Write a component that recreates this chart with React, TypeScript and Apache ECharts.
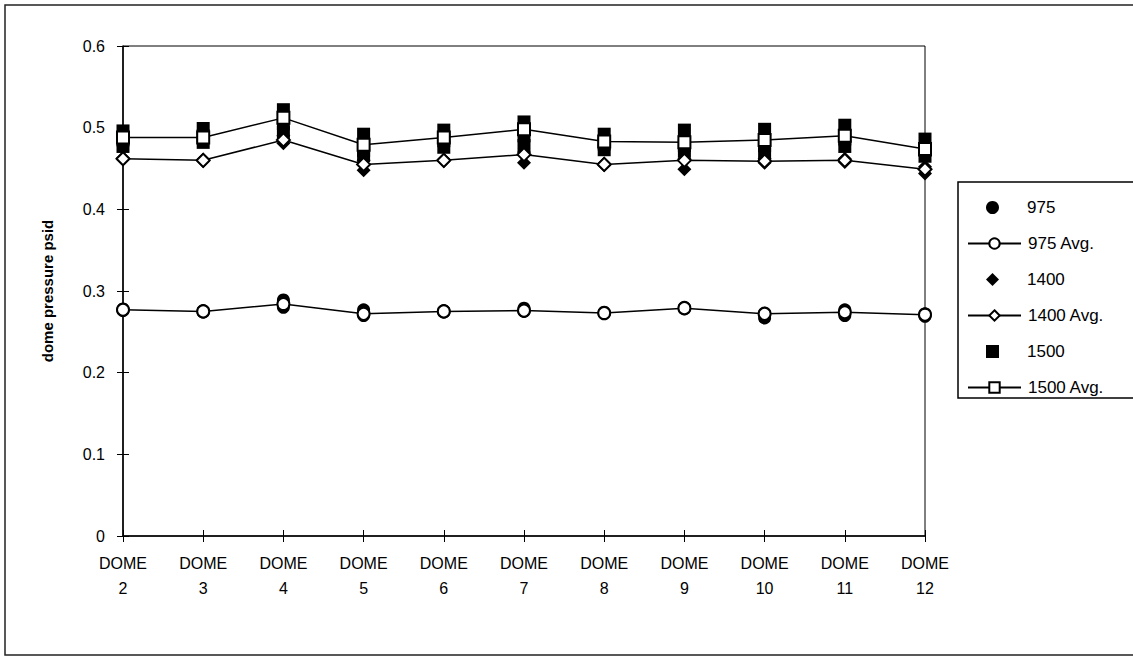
import React, { useEffect, useRef } from "react";
import * as echarts from "echarts";

const categories = ["2", "3", "4", "5", "6", "7", "8", "9", "10", "11", "12"];
const yTicks = [0, 0.1, 0.2, 0.3, 0.4, 0.5, 0.6];

const avg975 = [0.277, 0.275, 0.284, 0.272, 0.275, 0.276, 0.273, 0.279, 0.272, 0.274, 0.271];
const avg1400 = [0.462, 0.460, 0.485, 0.455, 0.460, 0.467, 0.455, 0.460, 0.459, 0.460, 0.449];
const avg1500 = [0.488, 0.488, 0.512, 0.479, 0.488, 0.498, 0.483, 0.482, 0.485, 0.490, 0.474];

const raw975 = [
  [0.278, 0.276],
  [0.276, 0.274],
  [0.289, 0.280],
  [0.277, 0.270],
  [0.276, 0.274],
  [0.279, 0.275],
  [0.274, 0.272],
  [0.280, 0.278],
  [0.273, 0.267],
  [0.277, 0.270],
  [0.272, 0.269],
];
const raw1400 = [
  [0.463, 0.461],
  [0.461, 0.459],
  [0.490, 0.481],
  [0.460, 0.448],
  [0.461, 0.459],
  [0.470, 0.457],
  [0.456, 0.454],
  [0.462, 0.449],
  [0.462, 0.457],
  [0.462, 0.458],
  [0.452, 0.444],
];
const raw1500 = [
  [0.496, 0.485, 0.477],
  [0.499, 0.490, 0.482],
  [0.522, 0.505, 0.494],
  [0.492, 0.472, 0.466],
  [0.497, 0.484, 0.476],
  [0.507, 0.490, 0.478],
  [0.492, 0.480, 0.473],
  [0.497, 0.478, 0.471],
  [0.498, 0.478, 0.468],
  [0.503, 0.486, 0.477],
  [0.486, 0.472, 0.465],
];

const toPoints = (raw: number[][]) =>
  raw.flatMap((vals, i) => vals.map((v) => [categories[i], v]));

const FONT = "'Liberation Sans', Arial, Helvetica, sans-serif";

export default function App() {
  const ref = useRef<HTMLDivElement>(null);
  useEffect(() => {
    if (!ref.current) return;
    const chart = echarts.init(ref.current, undefined, { renderer: "svg" });
    const filled = { color: "#000", opacity: 1 };
    const open = { color: "#fff", borderColor: "#000", borderWidth: 2, opacity: 1 };
    const lineStyle = { color: "#000", width: 1.5 };
    const legendText = { fontSize: 17, fontFamily: FONT, color: "#000" };
    const rowH = 36;
    const firstItemTop = 199;
    chart.setOption({
      animation: false,
      backgroundColor: "#fff",
      textStyle: { fontFamily: FONT, color: "#000" },
      grid: {
        left: 123,
        right: 1133 - 925,
        top: 46,
        bottom: 671 - 536,
        show: true,
        borderColor: "#000",
        borderWidth: 1,
        backgroundColor: "#fff",
      },
      graphic: [
        {
          type: "rect",
          shape: { x: 5, y: 5, width: 1140, height: 650 },
          style: { fill: "none", stroke: "#222", lineWidth: 1.5 },
          silent: true,
          z: -1,
        },
        {
          type: "rect",
          shape: { x: 958, y: 182, width: 200, height: 216 },
          style: { fill: "#fff", stroke: "#000", lineWidth: 1.5 },
          silent: true,
          z: 0,
        },
      ],
      legend: [
        {
          orient: "vertical",
          left: 986,
          top: firstItemTop,
          padding: 0,
          itemGap: rowH * 2 - 17,
          itemWidth: 13,
          itemHeight: 13,
          textStyle: { ...legendText, padding: [0, 0, 0, 23] },
          itemStyle: { opacity: 1 },
          data: ["975", "1400", "1500"],
          z: 5,
        },
        {
          orient: "vertical",
          left: 967,
          top: firstItemTop + rowH,
          padding: 0,
          itemGap: rowH * 2 - 17,
          itemWidth: 53,
          itemHeight: 13,
          textStyle: { ...legendText, padding: [0, 0, 0, 2] },
          data: ["975 Avg.", "1400 Avg.", "1500 Avg."],
          z: 5,
        },
      ],
      xAxis: [
        {
          type: "category",
          data: categories,
          boundaryGap: false,
          axisLine: { lineStyle: { color: "#000", width: 1.5 } },
          axisTick: { show: true, length: 6, lineStyle: { color: "#000" } },
          axisLabel: {
            color: "#000",
            fontSize: 16,
            fontFamily: FONT,
            lineHeight: 25,
            margin: 15,
            formatter: (v: string) => "DOME\n" + v,
          },
        },
        {
          type: "category",
          data: categories,
          boundaryGap: false,
          position: "bottom",
          axisLine: { show: false },
          axisTick: { show: true, inside: true, length: 6, lineStyle: { color: "#000" } },
          axisLabel: { show: false },
        },
      ],
      yAxis: [
        {
          type: "value",
          min: yTicks[0],
          max: yTicks[yTicks.length - 1],
          interval: 0.1,
          name: "dome pressure psid",
          nameLocation: "middle",
          nameGap: 68,
          nameTextStyle: { fontSize: 15, fontWeight: "bold", color: "#000", fontFamily: FONT },
          splitLine: { show: false },
          axisLine: { show: true, lineStyle: { color: "#000", width: 1.5 } },
          axisTick: { show: true, length: 6, lineStyle: { color: "#000" } },
          axisLabel: {
            color: "#000",
            fontSize: 16,
            fontFamily: FONT,
            margin: 18,
            formatter: (v: number) => (v === 0 ? "0" : v.toFixed(1)),
          },
        },
        {
          type: "value",
          min: yTicks[0],
          max: yTicks[yTicks.length - 1],
          interval: 0.1,
          position: "left",
          splitLine: { show: false },
          axisLine: { show: false },
          axisTick: { show: true, inside: true, length: 6, lineStyle: { color: "#000" } },
          axisLabel: { show: false },
        },
      ],
      series: [
        {
          name: "975",
          type: "scatter",
          symbol: "circle",
          symbolSize: 13,
          itemStyle: filled,
          data: toPoints(raw975),
          z: 2,
        },
        {
          name: "975 Avg.",
          type: "line",
          symbol: "circle",
          symbolSize: 12,
          itemStyle: open,
          lineStyle,
          data: avg975,
          z: 3,
        },
        {
          name: "1400",
          type: "scatter",
          symbol: "diamond",
          symbolSize: 14,
          itemStyle: filled,
          data: toPoints(raw1400),
          z: 2,
        },
        {
          name: "1400 Avg.",
          type: "line",
          symbol: "diamond",
          symbolSize: 13,
          itemStyle: open,
          lineStyle,
          data: avg1400,
          z: 3,
        },
        {
          name: "1500",
          type: "scatter",
          symbol: "rect",
          symbolSize: 13,
          itemStyle: filled,
          data: toPoints(raw1500),
          z: 2,
        },
        {
          name: "1500 Avg.",
          type: "line",
          symbol: "rect",
          symbolSize: 12,
          itemStyle: open,
          lineStyle,
          data: avg1500,
          z: 3,
        },
      ],
    });
    return () => chart.dispose();
  }, []);
  return (
    <div
      ref={ref}
      style={{ position: "fixed", left: 0, top: 0, width: 1133, height: 671, background: "#fff" }}
    />
  );
}
